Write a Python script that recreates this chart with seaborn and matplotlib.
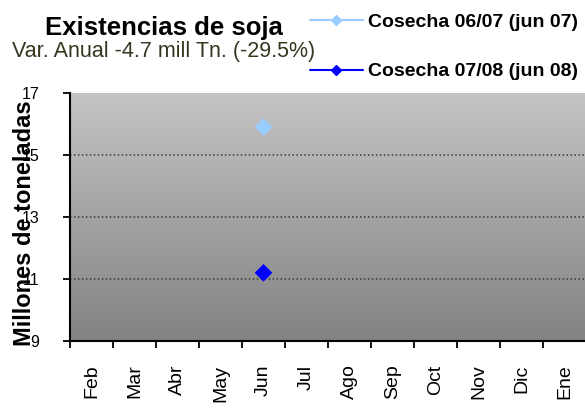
import numpy as np
import pandas as pd
import seaborn as sns
from matplotlib import pyplot as plt
from matplotlib.lines import Line2D
from matplotlib.colors import LinearSegmentedColormap

# Data
months = ['Feb', 'Mar', 'Abr', 'May', 'Jun', 'Jul', 'Ago', 'Sep', 'Oct', 'Nov', 'Dic', 'Ene']
cosecha_0607 = [None, None, None, None, 15.9, None, None, None, None, None, None, None]
cosecha_0708 = [None, None, None, None, 11.2, None, None, None, None, None, None, None]
series_labels = ['Cosecha 06/07 (jun 07)', 'Cosecha 07/08 (jun 08)']
y_ticks = [9, 11, 13, 15, 17]

colors = {series_labels[0]: '#99ccff', series_labels[1]: '#0000ff'}

sns.set_theme(style='white')
plt.rcParams['font.family'] = ['Liberation Sans', 'DejaVu Sans']
plt.rcParams['text.color'] = 'black'
plt.rcParams['xtick.color'] = 'black'
plt.rcParams['ytick.color'] = 'black'

df = pd.DataFrame({'mes': months, series_labels[0]: cosecha_0607, series_labels[1]: cosecha_0708})
long_df = df.melt(id_vars='mes', var_name='serie', value_name='valor').dropna()
long_df['valor'] = long_df['valor'].astype(float)

fig = plt.figure(figsize=(5.85, 4.08), dpi=100)
ax = fig.add_axes([70 / 585, 67 / 408, 516 / 585, 248 / 408])

# gray gradient background
cmap = LinearSegmentedColormap.from_list('bg', ['#c4c4c4', '#838383'])
ax.imshow(np.linspace(0, 1, 256).reshape(-1, 1), cmap=cmap, aspect='auto',
          extent=[0, 1, 0, 1], transform=ax.transAxes, zorder=0)

sns.stripplot(data=long_df, x='mes', y='valor', hue='serie', order=months,
              palette=colors, marker='D', size=9, jitter=False, linewidth=0,
              legend=False, ax=ax, zorder=5)

ax.set_xlim(-0.5, len(months) - 0.5)
ax.set_ylim(y_ticks[0], y_ticks[-1])

for y in y_ticks[1:-1]:
    ax.axhline(y, color='#3a3a3a', lw=1.1, ls=(0, (1, 1.6)), zorder=1)

# ticks: boundaries as major, labels as minor
ax.set_xticks(np.arange(-0.5, len(months), 1))
ax.set_xticklabels([])
ax.set_xticks(np.arange(len(months)), minor=True)
ax.set_xticklabels(months, minor=True, rotation=90, fontsize=14, va='top')
ax.tick_params(axis='x', which='major', direction='out', length=5, width=1.3, color='black', bottom=True)
ax.tick_params(axis='x', which='minor', length=0, pad=17)
ax.set_yticks(y_ticks)
ax.set_yticklabels([str(v) for v in y_ticks], fontsize=11.5)
ax.tick_params(axis='y', direction='out', length=5, width=1.3, color='black', left=True, pad=17)
ax.set_xlabel('')
ax.set_ylabel('')

for s in ['top', 'right']:
    ax.spines[s].set_visible(False)
for s in ['left', 'bottom']:
    ax.spines[s].set_color('black')
    ax.spines[s].set_linewidth(1.5)

fig.text(25 / 585, 1 - 223 / 408, 'Millones de toneladas', rotation=90, fontsize=17,
         fontweight='bold', ha='center', va='center')

fig.text(45 / 585, 1 - 35 / 408, 'Existencias de soja', fontsize=18.5, fontweight='bold')
fig.text(12 / 585, 1 - 57 / 408, 'Var. Anual -4.7 mill Tn. (-29.5%)', fontsize=15.5, color='#36361f')

handles = [Line2D([], [], color=colors[l], marker='D', markersize=5, lw=1.5) for l in series_labels]
fig.legend(handles, series_labels, loc='upper left', bbox_to_anchor=(310 / 585, 1 - 13 / 408),
           frameon=False, prop={'weight': 'bold', 'size': 14},
           handlelength=2.7, handletextpad=0.26, labelspacing=1.66, borderaxespad=0, borderpad=0)

fig.savefig('out.png', dpi=100)
